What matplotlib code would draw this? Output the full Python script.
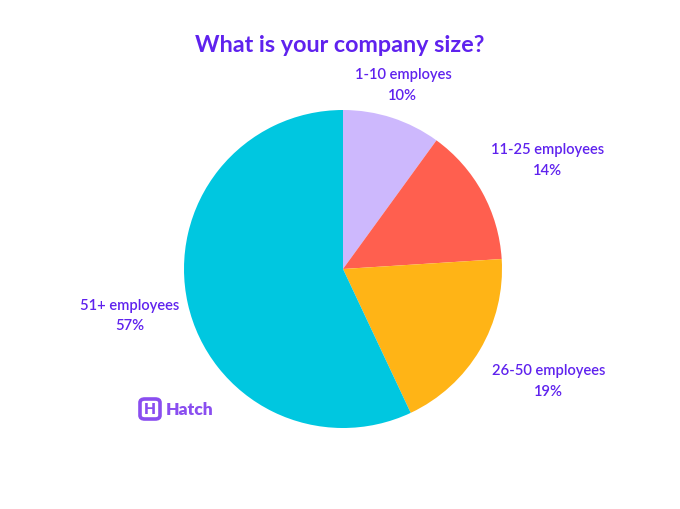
import numpy as np
import matplotlib.pyplot as plt
from matplotlib.patches import FancyBboxPatch

# Dados do gráfico
categorias = ["1-10 employes", "11-25 employees", "26-50 employees", "51+ employees"]
valores = [10, 14, 19, 57]
cores = ["#cdb8fd", "#ff5f4f", "#ffb416", "#00c7e0"]
distancias = [1.22, 1.46, 1.47, 1.37]
desvio_ang = [0, -0.6, 2.1, -0.4]  # pequeno ajuste angular dos rótulos (graus)

roxo = "#5f22ee"
plt.rcParams['font.family'] = ['Lato', 'DejaVu Sans']

fig = plt.figure(figsize=(6.8, 5.1), dpi=100)
# Eixo do pizza: centro em (343, 270) px, raio ~159 px
r_px = 159
cx, cy = 343, 510 - 270
ax = fig.add_axes([(cx - r_px) / 680, (cy - r_px) / 510, 2 * r_px / 680, 2 * r_px / 510])

wedges, _ = ax.pie(valores, colors=cores, startangle=90, counterclock=False,
                   radius=1, wedgeprops=dict(linewidth=0))
ax.set_xlim(-1, 1)
ax.set_ylim(-1, 1)
ax.set_aspect('equal')
ax.axis('off')

# Rótulos fora das fatias
for w, cat, val, d, da in zip(wedges, categorias, valores, distancias, desvio_ang):
    ang = np.deg2rad((w.theta1 + w.theta2) / 2 + da)
    ax.text(d * np.cos(ang), d * np.sin(ang), f"{cat}\n{val}%", ha='center', va='center',
            color=roxo, fontsize=10.6, fontweight='semibold', linespacing=1.6,
            clip_on=False)

fig.text(0.5, 1 - 45 / 510, "What is your company size?", ha='center', va='center',
         color=roxo, fontsize=16.8, fontweight='bold')

# Logo Hatch
logo = FancyBboxPatch((140 / 680, 1 - 420 / 510), 20 / 680, 20 / 510,
                      boxstyle="round,pad=0,rounding_size=0.007",
                      transform=fig.transFigure, facecolor='none',
                      edgecolor='#8a4ef0', linewidth=2.6)
fig.patches.append(logo)
fig.text(150 / 680, 1 - 410 / 510, "H", ha='center', va='center', color='#8a4ef0',
         fontsize=11, fontweight='heavy')
fig.text(166 / 680, 1 - 410 / 510, "Hatch", ha='left', va='center', color='#8a4ef0',
         fontsize=12.5, fontweight='heavy')

fig.savefig("out.png", dpi=100, facecolor='white')
